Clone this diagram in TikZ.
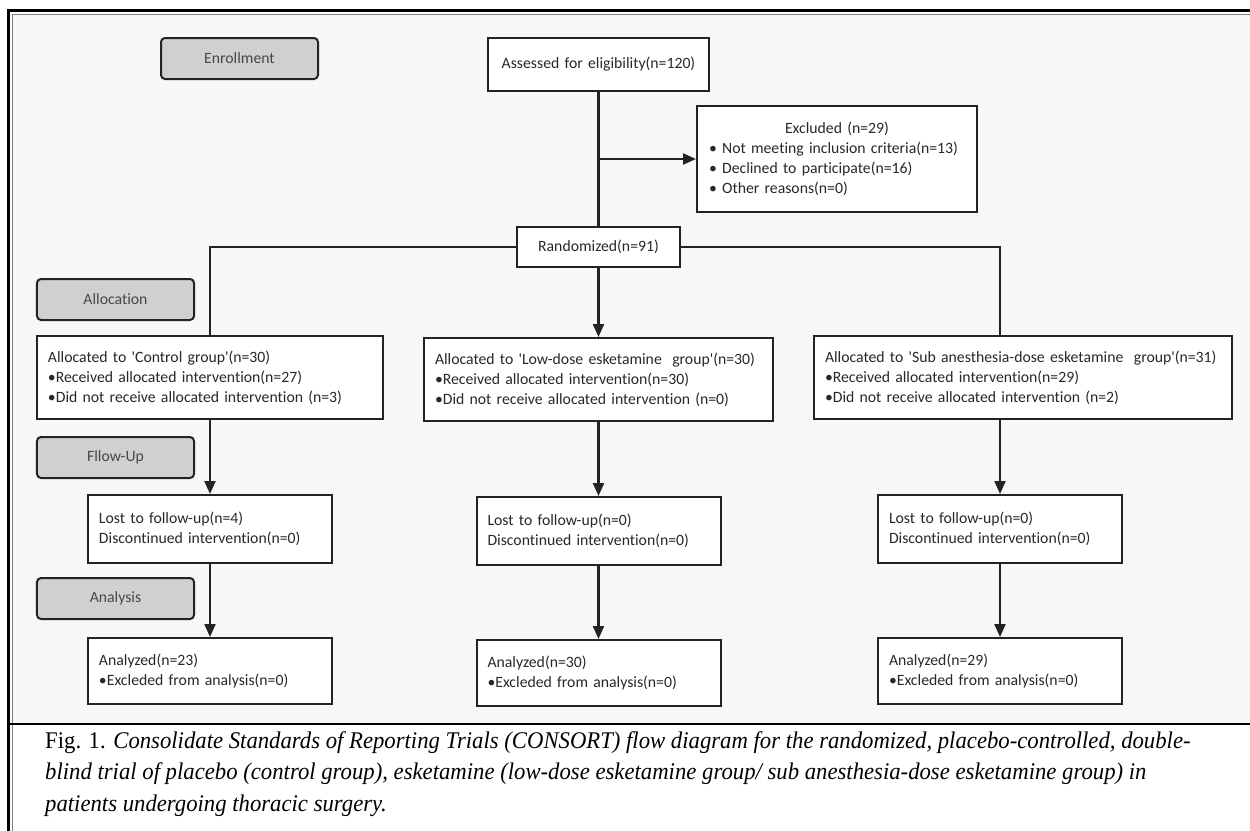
\documentclass[tikz,border=0pt]{standalone}
\usepackage{fontspec}
\setmainfont{Liberation Serif}
\newfontfamily\boxfont[Ligatures={NoCommon}]{Carlito}
\newfontfamily\capfont[FakeStretch=0.95]{Liberation Serif}
\usetikzlibrary{arrows.meta, positioning}
\definecolor{panelgray}{RGB}{247,247,247}
\definecolor{phasegray}{RGB}{208,208,208}
\definecolor{linedark}{RGB}{35,35,35}
\definecolor{textdark}{RGB}{40,40,40}

\begin{document}
\begin{tikzpicture}[x=1bp, y=-1bp,
    node distance=74bp,
    every node/.style={font=\boxfont\fontsize{15.8}{20}\selectfont, text=textdark},
    box/.style={draw=linedark, fill=white, line width=2bp,
                inner xsep=11bp, inner ysep=0pt, align=left},
    phase/.style={draw=linedark, fill=phasegray, rounded corners=4bp,
                  line width=2bp, minimum width=157bp, minimum height=41bp,
                  text=black!72},
    link/.style={draw=linedark, line width=2.2bp},
    arrow/.style={link, -{Triangle[length=13bp,width=11bp]}}
  ]
  \useasboundingbox (0,0) rectangle (1250,831);
  % frame and panel
  \fill[white] (0,0) rectangle (1250,831);
  \fill[panelgray] (13,15) rectangle (1250,723);
  \draw[line width=2.5bp] (8.5,831) -- (8.5,10.5) -- (1250,10.5);
  \draw[gray, line width=1.2bp] (12.8,831) -- (12.8,14.5) -- (1250,14.5);
  \draw[line width=1.5bp] (8,724) -- (1250,724);

  % phase labels
  \node[phase] (enrollLbl) at (239.5,58.5) {Enrollment};
  \node[phase] (allocLbl) at (115.5,299.5) {Allocation};
  \node[phase] (followLbl) at (115.5,457.5) {Fllow-Up};
  \node[phase] (analysisLbl) at (115.5,598.5) {Analysis};

  % enrollment
  \node[box, text width=256bp, minimum height=106bp, inner xsep=12bp] (excl)
    at (837,159)
    {\makebox[\linewidth]{Excluded (n=29)}\\
     \mbox{• Not meeting inclusion criteria(n=13)}\\
     • Declined to participate(n=16)\\
     • Other reasons(n=0)};
  \node[box, text width=199bp, minimum height=53bp, align=center] (assess)
    at (598.5,64.5) {Assessed for eligibility(n=120)};
  \node[box, text width=141bp, minimum height=40bp, align=center,
        below=134bp of assess] (rand) {Randomized(n=91)};

  % allocation
  \node[box, text width=324bp, minimum height=83bp] (allocC) at (210,377.5)
    {Allocated to \textquotesingle Control group\textquotesingle(n=30)\\
     •Received allocated intervention(n=27)\\
     •Did not receive allocated intervention (n=3)};
  \node[box, text width=327bp, minimum height=83bp, below=69bp of rand] (allocL)
    {Allocated to \textquotesingle Low-dose esketamine\ \ group\textquotesingle(n=30)\\
     •Received allocated intervention(n=30)\\
     •Did not receive allocated intervention (n=0)};
  \node[box, text width=396bp, minimum height=83bp] (allocS) at (1023,377.5)
    {Allocated to \textquotesingle Sub anesthesia-dose esketamine\ \ group\textquotesingle(n=31)\\
     •Received allocated intervention(n=29)\\
     •Did not receive allocated intervention (n=2)};

  % follow-up
  \node[box, text width=222bp, minimum height=68bp, below=of allocC] (lostC)
    {Lost to follow-up(n=4)\\ Discontinued intervention(n=0)};
  \node[box, text width=222bp, minimum height=68bp, below=of allocL] (lostL)
    {Lost to follow-up(n=0)\\ Discontinued intervention(n=0)};
  \node[box, text width=222bp, minimum height=68bp, below=of allocS,
        xshift=-23bp] (lostS)
    {Lost to follow-up(n=0)\\ Discontinued intervention(n=0)};

  % analysis
  \node[box, text width=222bp, minimum height=66bp, below=73bp of lostC] (analC)
    {Analyzed(n=23)\\ •Excleded from analysis(n=0)};
  \node[box, text width=222bp, minimum height=66bp, below=73bp of lostL] (analL)
    {Analyzed(n=30)\\ •Excleded from analysis(n=0)};
  \node[box, text width=222bp, minimum height=66bp, below=73bp of lostS] (analS)
    {Analyzed(n=29)\\ •Excleded from analysis(n=0)};

  % connectors
  \draw[link] (assess) -- (rand);
  \draw[arrow] (assess.south |- excl.west) -- (excl.west);
  \draw[link] (rand.west) -| (allocC.north);
  \draw[link] (rand.east) -| (lostS |- allocS.north);
  \draw[arrow] (rand) -- (allocL);
  \foreach \c in {C,L,S} {
    \draw[arrow] (lost\c |- alloc\c.south) -- (lost\c.north);
    \draw[arrow] (lost\c) -- (anal\c);
  }

  % caption
  \node[anchor=north west, align=left, inner sep=0pt, text=black,
        font=\capfont\fontsize{24}{32}\selectfont] (caption) at (45,731)
    {Fig. 1. \textit{Consolidate Standards of Reporting Trials (CONSORT) flow diagram for the randomized, placebo-controlled, double-}\\
     \textit{blind trial of placebo (control group), esketamine (low-dose esketamine group/ sub anesthesia-dose esketamine group) in}\\
     \textit{patients undergoing thoracic surgery.}};
\end{tikzpicture}
\end{document}
